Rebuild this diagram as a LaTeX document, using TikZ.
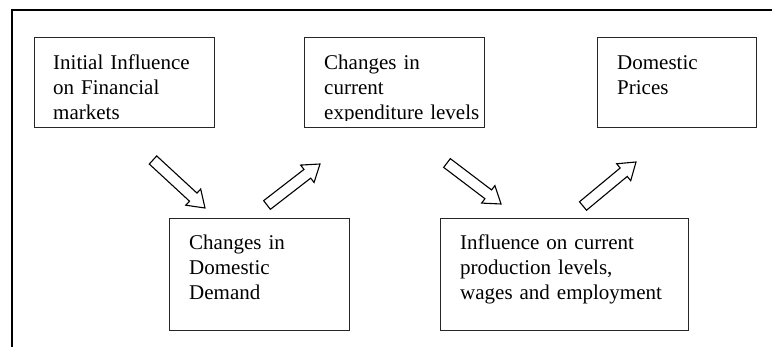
\documentclass[tikz,border=0pt]{standalone}
\usepackage{fontspec}
\setmainfont{Liberation Serif}
\usetikzlibrary{calc}
% block arrow from #1 (tail) to #2 (tip)
\newcommand{\blockarrow}[2]{%
  \coordinate (#1-n) at ($(#2)!16pt!(#1)$);
  \draw[barrow] ($(#1)!5.5pt!90:(#2)$) -- ($(#1-n)!5.5pt!90:(#2)$)
    -- ($(#1-n)!11pt!90:(#2)$) -- (#2) -- ($(#1-n)!11pt!-90:(#2)$)
    -- ($(#1-n)!5.5pt!-90:(#2)$) -- ($(#1)!5.5pt!-90:(#2)$) -- cycle;}

\begin{document}
\begin{tikzpicture}[
    x=1pt, y=-1pt,
    box/.style={draw=black!85, line width=1.2pt, inner sep=0pt, anchor=north west},
    txt/.style={inner sep=0pt, anchor=base west, align=left,
                font=\fontsize{21}{25}\selectfont},
    barrow/.style={draw=black, fill=white, line width=1.1pt, line join=miter},
    frame/.style={draw=black, line width=1.2pt},
]
\useasboundingbox (0,0) rectangle (772,347);
% outer frame (cut at right and bottom)
\draw[frame] (12,347) -- (12,10) -- (772,10);
% top row
\node[box, minimum width=180, minimum height=90] (infl) at (34,37) {};
\node[box, minimum width=180, minimum height=90] (expend) at (304,37) {};
\node[box, minimum width=159, minimum height=90] (prices) at (597,37) {};
\node[txt, text width=160] (infltxt) at (53,70) {Initial Influence\\on Financial\\markets};
\begin{scope}
  \clip (304,37) rectangle (484,121);   % last line is cut by the box
  \node[txt, text width=160] (expendtxt) at (324,70) {Changes in\\current\\expenditure levels};
\end{scope}
\node[txt, text width=130] (pricestxt) at (617,70) {Domestic\\Prices};
% bottom row
\node[box, minimum width=180, minimum height=112] (demand) at (169,218) {};
\node[box, minimum width=248, minimum height=112] (prod) at (440,218) {};
\node[txt, text width=150] (demandtxt) at (189,250) {Changes in\\Domestic\\Demand};
\node[txt, text width=225] (prodtxt) at (460,250) {Influence on current\\production levels,\\wages and employment};
% block arrows
\coordinate (a1) at (153,160); \coordinate (b1) at (205,208);
\coordinate (a2) at (267,205); \coordinate (b2) at (320,164);
\coordinate (a3) at (447,163); \coordinate (b3) at (501,204);
\coordinate (a4) at (583,206); \coordinate (b4) at (636,162);
\blockarrow{a1}{b1}
\blockarrow{a2}{b2}
\blockarrow{a3}{b3}
\blockarrow{a4}{b4}
\end{tikzpicture}
\end{document}
